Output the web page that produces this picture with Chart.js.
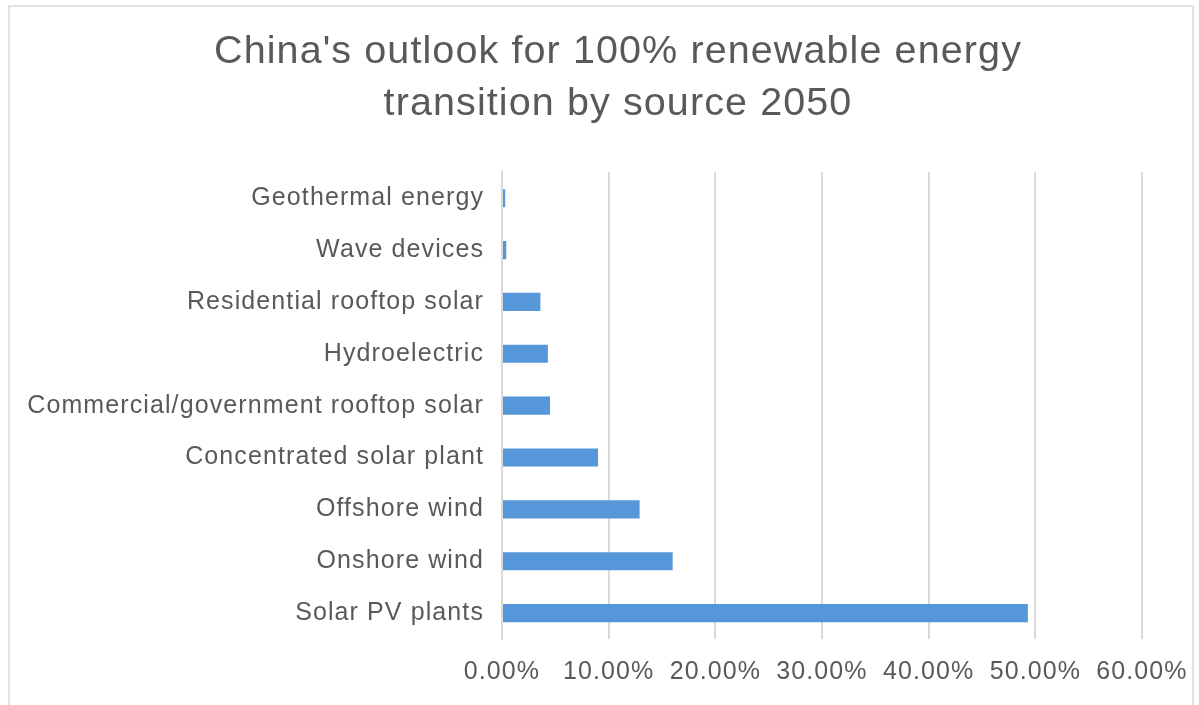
<!DOCTYPE html>
<html>
<head>
<meta charset="utf-8">
<script src="https://cdn.jsdelivr.net/npm/chart.js@4"></script>
<style>
  html, body { margin: 0; padding: 0; background: #ffffff; overflow: hidden; }
  #wrap { position: relative; width: 1199px; height: 705px; overflow: hidden; }
  #frame { position: absolute; left: 8px; top: 5px; width: 1186px; height: 705px; border: 2px solid #e3e3e3; box-sizing: border-box; pointer-events: none; }
  canvas { position: absolute; left: 0; top: 0; }
</style>
</head>
<body>
<div id="wrap">
  <canvas id="c" width="1236" height="705"></canvas>
  <div id="frame"></div>
</div>
<script>
// Share of each source in the 2050 energy mix (fraction of total)
const sources = [
  "Geothermal energy",
  "Wave devices",
  "Residential rooftop solar",
  "Hydroelectric",
  "Commercial/government rooftop solar",
  "Concentrated solar plant",
  "Offshore wind",
  "Onshore wind",
  "Solar PV plants"
];
const shares = [0.003, 0.004, 0.036, 0.043, 0.045, 0.090, 0.129, 0.160, 0.493];
const titleLines = ["China's outlook for 100% renewable energy", "transition by source 2050"];

const textColor = "#595959";
const fontFamily = "'Liberation Sans', Arial, Helvetica, sans-serif";

// Slightly wider tracking for all canvas text
const tracking = {
  id: "tracking",
  beforeLayout(chart) { chart.ctx.letterSpacing = "1.1px"; },
  beforeDraw(chart) { chart.ctx.letterSpacing = "1.1px"; }
};

new Chart(document.getElementById("c"), {
  type: "bar",
  data: {
    labels: sources,
    datasets: [{
      data: shares,
      backgroundColor: "#5597d8",
      borderWidth: 0,
      barPercentage: 0.35,
      categoryPercentage: 1.0
    }]
  },
  plugins: [tracking],
  options: {
    indexAxis: "y",
    responsive: false,
    animation: false,
    layout: { padding: { left: 10, right: 10, top: 12, bottom: 0 } },
    plugins: {
      legend: { display: false },
      tooltip: { enabled: false },
      title: {
        display: true,
        text: titleLines,
        color: textColor,
        font: { family: fontFamily, size: 39.5, weight: "normal", lineHeight: 1.32 },
        padding: { top: 14, bottom: 42 }
      }
    },
    scales: {
      x: {
        min: 0,
        max: 0.6,
        afterFit(scale) { scale.paddingRight = 94; scale.paddingLeft = 0; },
        ticks: {
          stepSize: 0.1,
          color: textColor,
          padding: 18,
          font: { family: fontFamily, size: 25 },
          callback: (v) => (v * 100).toFixed(2) + "%"
        },
        grid: { color: "#d9d9d9", lineWidth: 2, drawTicks: false },
        border: { display: false }
      },
      y: {
        afterFit(scale) { scale.width = 492; },
        ticks: {
          color: textColor,
          padding: 18,
          font: { family: fontFamily, size: 25 }
        },
        grid: { display: false, drawTicks: false },
        border: { display: true, color: "#d9d9d9", width: 2 }
      }
    }
  }
});
</script>
</body>
</html>
